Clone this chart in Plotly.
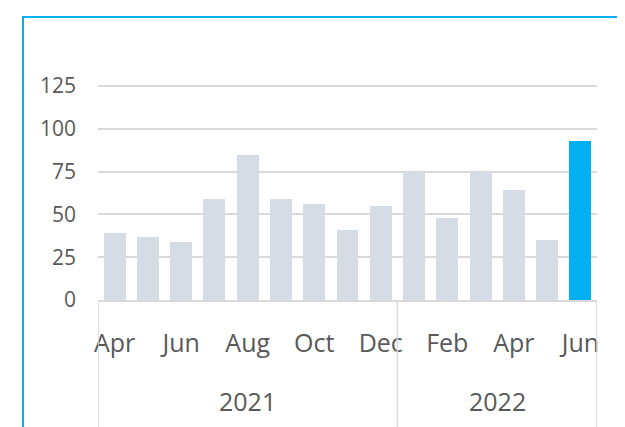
import plotly.graph_objects as go

months = ["Apr", "May", "Jun", "Jul", "Aug", "Sep", "Oct", "Nov", "Dec",
          "Jan", "Feb", "Mar", "Apr", "May", "Jun"]
years = ["2021"] * 9 + ["2022"] * 6
values = [39, 37, 34, 59, 85, 59, 56, 41, 55, 75, 48, 75, 64, 35, 93]
y_ticks = [0, 25, 50, 75, 100, 125]

GREY_BAR = "#D6DCE5"
BLUE = "#00B0F0"
GRID = "#D9D9D9"
TEXT = "#595959"
FONT = "Open Sans"

x_idx = list(range(len(values)))
colors = [GREY_BAR] * (len(values) - 1) + [BLUE]

fig = go.Figure(go.Bar(
    x=x_idx, y=values, marker=dict(color=colors, line=dict(width=0)),
    width=0.66, hoverinfo="skip",
))

tick_vals = x_idx[::2]
tick_text = [months[i] for i in tick_vals]

# page body has an 8px margin
L, R, T, B = 90, 28, 76, 127
W, H = 617, 419
pw, ph = W - L - R, H - T - B

fig.update_layout(
    width=W, height=H,
    margin=dict(l=L, r=R, t=T, b=B, pad=0),
    paper_bgcolor="white", plot_bgcolor="white",
    showlegend=False,
    font=dict(family=FONT, color=TEXT),
    bargap=0,
)
fig.update_xaxes(
    range=[-0.5, len(values) - 0.5],
    tickmode="array", tickvals=tick_vals, ticktext=tick_text,
    tickfont=dict(size=25, color=TEXT, family=FONT),
    showgrid=False, zeroline=False,
    showline=True, linecolor=GRID, linewidth=1.5,
    ticks="", ticklabelstandoff=20,
)
fig.update_yaxes(
    range=[0, 126.2], tickmode="array", tickvals=y_ticks,
    tickfont=dict(size=21, color=TEXT, family=FONT),
    showgrid=True, gridcolor=GRID, gridwidth=1.5,
    zeroline=False, showline=False, ticks="", ticklabelstandoff=21,
)

shapes = []
bounds = [-0.5]
for i in range(1, len(years)):
    if years[i] != years[i - 1]:
        bounds.append(i - 0.5)
bounds.append(len(years) - 0.5)
for bx in bounds:
    shapes.append(dict(type="line", xref="x", yref="paper",
                       x0=bx, x1=bx, y0=0, y1=-B / ph - 0.1,
                       line=dict(color=GRID, width=1.5), layer="above"))

# outer chart frame (cropped blue border)
shapes.append(dict(type="rect", xref="paper", yref="paper",
                   x0=(15 - L) / pw, x1=1.5, y0=-2, y1=1 + (T - 9) / ph,
                   line=dict(color=BLUE, width=2), fillcolor="rgba(0,0,0,0)"))

annotations = []
uniq = []
for y in years:
    if y not in uniq:
        uniq.append(y)
for y in uniq:
    idx = [i for i, v in enumerate(years) if v == y]
    annotations.append(dict(
        x=(min(idx) + max(idx)) / 2, xref="x", y=0, yref="paper",
        yshift=-120, text=y, showarrow=False,
        font=dict(size=25, color=TEXT, family=FONT),
    ))

fig.update_layout(shapes=shapes, annotations=annotations)
fig.write_html("out.html")
